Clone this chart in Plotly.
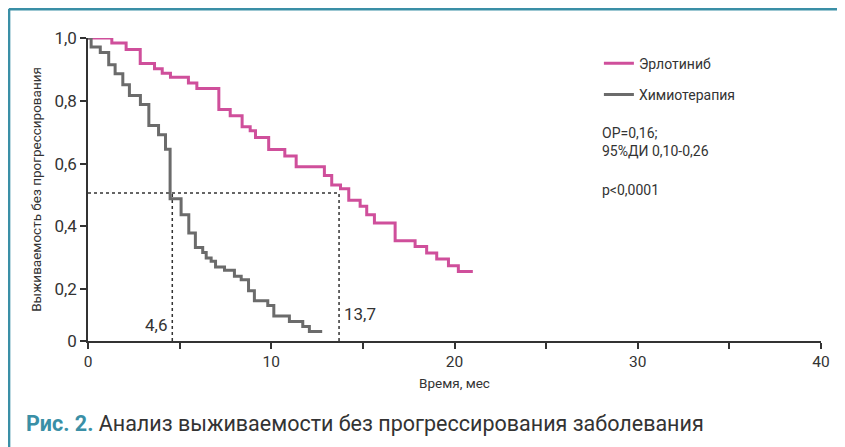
import plotly.graph_objects as go

# ---- data ----
erl_t = [0, 1.30, 2.08, 2.85, 3.63, 4.05, 4.5, 5.48, 5.94, 7.14, 7.76, 8.41, 8.85, 9.14, 9.86,
         10.74, 11.36, 12.9, 13.3, 13.78, 14.23, 14.85, 15.21, 15.63, 16.76, 17.85, 18.48,
         19.03, 19.67, 20.21, 21.0]
erl_s = [1.0, 0.984, 0.963, 0.919, 0.902, 0.888, 0.875, 0.857, 0.839, 0.772, 0.752, 0.717,
         0.705, 0.683, 0.645, 0.624, 0.590, 0.562, 0.532, 0.52, 0.483, 0.464, 0.437, 0.411,
         0.354, 0.336, 0.315, 0.296, 0.275, 0.256, 0.256]

chemo_t = [0, 0.17, 0.67, 1.13, 1.48, 1.9, 2.26, 2.86, 3.32, 3.85, 4.23, 4.48, 5.08, 5.5,
           5.86, 6.26, 6.45, 6.72, 6.96, 7.45, 7.99, 8.36, 8.76, 9.08, 9.81, 10.14, 10.99,
           11.72, 12.08, 12.78]
chemo_s = [1.0, 0.971, 0.954, 0.915, 0.886, 0.851, 0.817, 0.788, 0.721, 0.692, 0.646, 0.488,
           0.437, 0.379, 0.333, 0.317, 0.299, 0.289, 0.271, 0.26, 0.241, 0.23, 0.195, 0.163,
           0.148, 0.115, 0.097, 0.081, 0.065, 0.065]

series_names = ["Эрлотиниб", "Химиотерапия"]
median_times = [4.6, 13.7]
median_labels = ["4,6", "13,7"]
median_level = 0.506
y_floor = 0.035

x_tickvals = [0, 5, 10, 15, 20, 25, 30, 35, 40]
x_ticktext = ["0", "", "10", "", "20", "", "30", "", "40"]
y_tickvals = [y_floor, 0.2, 0.4, 0.6, 0.8, 1.0]
y_ticktext = ["0", "0,2", "0,4", "0,6", "0,8", "1,0"]

stats_lines = ["ОР=0,16;<br>95%ДИ 0,10-0,26", "p<0,0001"]
caption_bold = "Рис. 2."
caption_text = "Анализ выживаемости без прогрессирования заболевания"

MAGENTA = "#cf4f9b"
GRAY = "#6b6b6b"
TEAL = "#3a8fa6"
DARK = "#333333"
FONT = "Roboto, 'Liberation Sans', sans-serif"

fig = go.Figure()

# dotted median guides
fig.add_trace(go.Scatter(x=[0, median_times[1]], y=[median_level, median_level], mode="lines",
                         line=dict(color=DARK, width=1.5, dash="dot"), showlegend=False,
                         hoverinfo="skip"))
for mt in median_times:
    fig.add_trace(go.Scatter(x=[mt, mt], y=[y_floor, median_level], mode="lines",
                             line=dict(color=DARK, width=1.5, dash="dot"), showlegend=False,
                             hoverinfo="skip"))

fig.add_trace(go.Scatter(x=erl_t, y=erl_s, mode="lines", name=series_names[0],
                         line=dict(color=MAGENTA, width=3, shape="hv"), cliponaxis=False,
                         legendgroup="a"))
fig.add_trace(go.Scatter(x=chemo_t, y=chemo_s, mode="lines", name=series_names[1],
                         line=dict(color=GRAY, width=3, shape="hv"), cliponaxis=False,
                         legendgroup="b"))

annotations = [
    dict(x=median_times[0], y=0.086, xref="x", yref="y", text=median_labels[0],
         showarrow=False, xanchor="right", xshift=-3, font=dict(size=17, color=DARK, family=FONT)),
    dict(x=median_times[1], y=0.121, xref="x", yref="y", text=median_labels[1],
         showarrow=False, xanchor="left", xshift=3, font=dict(size=17, color=DARK, family=FONT)),
    dict(x=0.699, y=0.657, xref="paper", yref="paper", text=stats_lines[0], showarrow=False,
         xanchor="left", yanchor="middle", align="left",
         font=dict(size=14, color=DARK, family=FONT)),
    dict(x=0.699, y=0.498, xref="paper", yref="paper", text=stats_lines[1], showarrow=False,
         xanchor="left", yanchor="middle", align="left",
         font=dict(size=14, color=DARK, family=FONT)),
    dict(x=-0.0873, y=-0.272, xref="paper", yref="paper",
         text=f"<b><span style='color:{TEAL}'>{caption_bold}</span></b> {caption_text}",
         showarrow=False, xanchor="left", yanchor="middle",
         font=dict(size=21.5, color=DARK, family=FONT)),
]

shapes = [
    dict(type="line", xref="paper", yref="paper", x0=-0.108, x1=1.06, y0=1.0957, y1=1.0957,
         line=dict(color=TEAL, width=3)),
    dict(type="line", xref="paper", yref="paper", x0=-0.108, x1=-0.108, y0=1.0957, y1=-0.40,
         line=dict(color=TEAL, width=3)),
]

# page body has an 8px margin, so the figure margins are reduced by 8px on left/top
fig.update_layout(
    width=845, height=447,
    margin=dict(l=80, r=32, t=30, b=114),
    paper_bgcolor="white", plot_bgcolor="white",
    font=dict(family=FONT, color=DARK),
    showlegend=True,
    legend=dict(x=0.697, y=0.968, xanchor="left", yanchor="top", bgcolor="rgba(0,0,0,0)",
                font=dict(size=14, color=DARK, family=FONT), tracegroupgap=10),
    annotations=annotations,
    shapes=shapes,
)

fig.update_xaxes(range=[0, 40], tickvals=x_tickvals, ticktext=x_ticktext,
                 showline=True, linecolor=DARK, linewidth=1.5, ticks="outside", ticklen=6,
                 tickwidth=1.5, tickcolor=DARK, showgrid=False, zeroline=False,
                 tickfont=dict(size=15.5, color=DARK, family=FONT),
                 title=dict(text="Время, мес", font=dict(size=13.5, color=DARK, family=FONT),
                            standoff=8))
fig.update_yaxes(range=[y_floor, 1.0], tickvals=y_tickvals, ticktext=y_ticktext,
                 showline=True, linecolor=DARK, linewidth=1.5, ticks="outside", ticklen=6,
                 tickwidth=1.5, tickcolor=DARK, showgrid=False, zeroline=False,
                 tickfont=dict(size=17, color=DARK, family=FONT),
                 title=dict(text="Выживаемость без прогрессирования",
                            font=dict(size=13.5, color=DARK, family=FONT), standoff=10))

fig.write_html("out.html")
